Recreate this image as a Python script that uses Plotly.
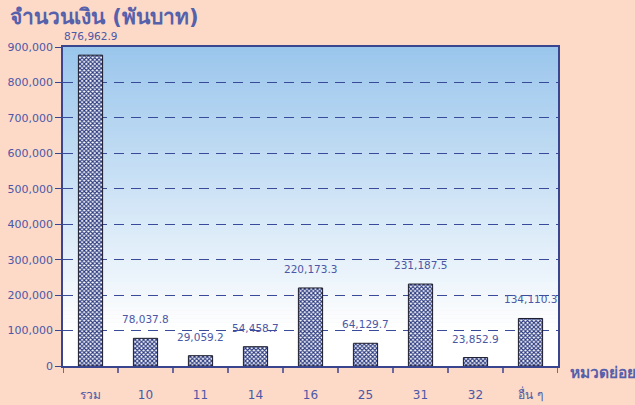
import plotly.graph_objects as go

categories = ["รวม", "10", "11", "14", "16", "25", "31", "32", "อื่น ๆ"]
values = [876962.9, 78037.8, 29059.2, 54458.7, 220173.3, 64129.7, 231187.5, 23852.9, 134110.3]
value_labels = ["876,962.9", "78,037.8", "29,059.2", "54,458.7", "220,173.3",
                "64,129.7", "231,187.5", "23,852.9", "134,110.3"]
y_ticks = [0, 100000, 200000, 300000, 400000, 500000, 600000, 700000, 800000, 900000]

TXT = "#4b58a6"
FONT = "Tahoma, 'DejaVu Sans', 'Noto Sans', sans-serif"
xpos = list(range(len(categories)))

fig = go.Figure()
fig.add_trace(go.Bar(
    x=xpos, y=values, width=0.44,
    marker=dict(color="white", line=dict(color="#1a1a2a", width=1),
                pattern=dict(shape="x", size=3, solidity=0.6,
                             fgcolor="#2b3a80", bgcolor="white", fillmode="replace")),
    hoverinfo="skip",
))

annotations = []
for x, v, t in zip(xpos, values, value_labels):
    annotations.append(dict(x=x, y=v, text=t, showarrow=False, yshift=19,
                            font=dict(size=10.5, color=TXT, family=FONT)))
annotations.append(dict(xref="paper", yref="paper", x=-0.111, y=1.094, xanchor="left", yanchor="middle",
                        text="<b>จำนวนเงิน (พันบาท)</b>", showarrow=False,
                        font=dict(size=21, color="#5561ab", family=FONT)))
annotations.append(dict(xref="paper", yref="paper", x=1.02, y=-0.022, xanchor="left", yanchor="middle",
                        text="<b>หมวดย่อย</b>", showarrow=False,
                        font=dict(size=15.5, color="#5561ab", family=FONT)))

# vertical gradient background
shapes = []
n = 80
top = (155, 198, 236)
bot = (255, 255, 255)
for i in range(n):
    f = i / (n - 1)
    g = min(1.0, f * 1.12)
    c = tuple(int(round(top[k] + (bot[k] - top[k]) * g)) for k in range(3))
    shapes.append(dict(type="rect", xref="x domain", yref="y domain",
                       x0=0, x1=1, y1=1 - i / n, y0=1 - (i + 1) / n - 0.002,
                       fillcolor="rgb(%d,%d,%d)" % c, line=dict(width=0), layer="below"))

fig.update_layout(
    width=635, height=405,
    margin=dict(l=63, r=77, t=47, b=39, autoexpand=False),
    paper_bgcolor="#fdd9c8",
    plot_bgcolor="rgba(0,0,0,0)",
    showlegend=False,
    annotations=annotations,
    shapes=shapes,
    font=dict(family=FONT, color=TXT),
    xaxis=dict(range=[-0.5, 8.5], tickvals=xpos, ticktext=categories, automargin=False,
               ticks="", showgrid=False, showline=True, linecolor="#3a4590", linewidth=1.5,
               mirror=True, tickfont=dict(size=12, color=TXT), ticklabelstandoff=17,
               zeroline=False),
    yaxis=dict(range=[0, 900000], tickvals=y_ticks, tickformat=",", automargin=False,
               ticks="outside", ticklen=6, tickcolor="#3a4590",
               showline=True, linecolor="#3a4590", linewidth=1.5, mirror=True,
               showgrid=True, gridcolor="#3a4a9a", griddash="10px,7px", gridwidth=1,
               zeroline=False, tickfont=dict(size=11, color=TXT)),
)

# category boundary tick marks
for b in [i + 0.5 for i in range(-1, 9)]:
    fig.add_shape(type="line", xref="x", yref="y domain", x0=b, x1=b, y0=0, y1=-0.022,
                  line=dict(color="#3a4590", width=1.5))

fig.write_html("out.html", config={"displayModeBar": False},
               post_script="document.body.style.margin='0px';document.body.style.background='#fdd9c8';")
